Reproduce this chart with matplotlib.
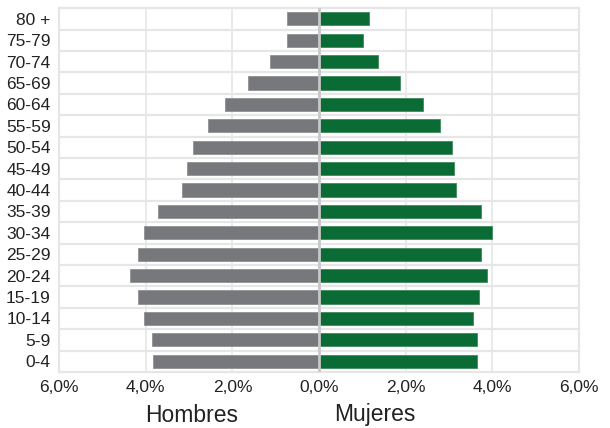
import numpy as np
import matplotlib.pyplot as plt
from matplotlib.ticker import FuncFormatter

# Age groups, bottom to top
grupos = ['0-4', '5-9', '10-14', '15-19', '20-24', '25-29', '30-34', '35-39',
          '40-44', '45-49', '50-54', '55-59', '60-64', '65-69', '70-74',
          '75-79', '80 +']
# Percent of population
hombres = [3.83, 3.86, 4.04, 4.18, 4.36, 4.18, 4.04, 3.72,
           3.17, 3.04, 2.90, 2.56, 2.16, 1.63, 1.13, 0.73, 0.73]
mujeres = [3.64, 3.64, 3.56, 3.70, 3.88, 3.73, 3.99, 3.73,
           3.16, 3.11, 3.06, 2.79, 2.39, 1.86, 1.36, 1.01, 1.15]
ticks = [-6, -4, -2, 0, 2, 4, 6]

plt.rcParams['font.family'] = ['Liberation Sans', 'DejaVu Sans']

fig = plt.figure(figsize=(6.1, 4.28), dpi=100)
ax = fig.add_axes([0.097, 0.131, 0.852, 0.85])

y = np.arange(len(grupos))
ax.barh(y, [-v for v in hombres], height=0.62, color='#76787b',
        edgecolor='#8e9093', linewidth=0.6, zorder=3)
ax.barh(y, mujeres, height=0.62, color='#0b6b35',
        edgecolor='#3f8a5c', linewidth=0.6, zorder=3)

ax.set_xlim(-6, 6)
ax.set_ylim(-0.5, len(grupos) - 0.5)

# grid: vertical at ticks, horizontal between rows
for t in ticks:
    if t != 0:
        ax.axvline(t, color='#e6e6e6', lw=1.2, zorder=1)
ax.axvline(0, color='#c8c8c8', lw=2, zorder=4)
for b in np.arange(0.5, len(grupos) - 1, 1):
    ax.axhline(b, color='#e6e6e6', lw=1.6, zorder=1)

for s in ax.spines.values():
    s.set_color('#e6e6e6')
    s.set_linewidth(1.6)

ax.set_xticks(ticks)
ax.xaxis.set_major_formatter(FuncFormatter(lambda v, p: f'{abs(v):.1f}%'.replace('.', ',')))
ax.set_yticks(y)
ax.set_yticklabels(grupos)
ax.tick_params(axis='both', length=0, labelsize=12.5, colors='#222222')
ax.tick_params(axis='x', pad=6)
ax.tick_params(axis='y', pad=6)

fig.text(192 / 610, 1 - 415 / 428, 'Hombres', ha='center', va='center', fontsize=16.5, color='#222222')
fig.text(375 / 610, 1 - 415 / 428, 'Mujeres', ha='center', va='center', fontsize=16.5, color='#222222')

fig.savefig('out.png', dpi=100)
